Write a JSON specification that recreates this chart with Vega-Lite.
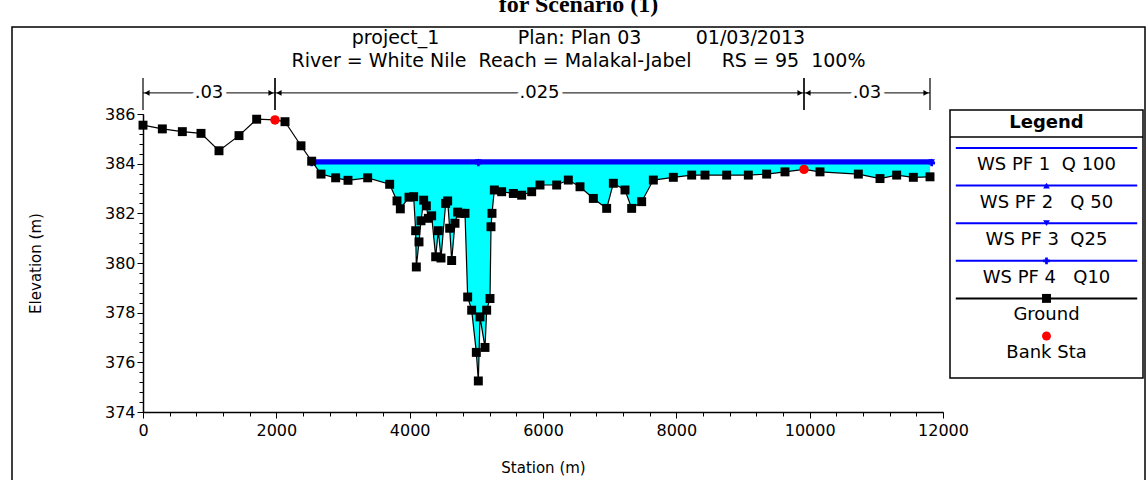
{
  "$schema": "https://vega.github.io/schema/vega-lite/v6.json",
  "width": 1133,
  "height": 461,
  "autosize": {"type": "none"},
  "padding": {"left": 12, "top": 27, "right": 2, "bottom": -8},
  "background": "white",
  "config": {
    "view": {"stroke": "black", "strokeWidth": 1.5, "fill": "white"},
    "font": "DejaVu Sans"
  },
  "title": {
    "text": "for Scenario (1)",
    "subtitle": ["project_1\u00a0\u00a0\u00a0\u00a0\u00a0\u00a0\u00a0\u00a0\u00a0\u00a0\u00a0\u00a0\u00a0Plan: Plan 03\u00a0\u00a0\u00a0\u00a0\u00a0\u00a0\u00a0\u00a0\u00a001/03/2013", "River = White Nile\u00a0\u00a0Reach = Malakal-Jabel\u00a0\u00a0\u00a0\u00a0\u00a0RS = 95\u00a0\u00a0100%"],
    "font": "Liberation Serif",
    "fontSize": 24,
    "fontWeight": "bold",
    "color": "black",
    "subtitleFont": "DejaVu Sans",
    "subtitleFontSize": 19,
    "subtitleColor": "black",
    "subtitleLineHeight": 23,
    "subtitlePadding": 12,
    "offset": -44,
    "anchor": "middle",
    "frame": "group"
  },
  "datasets": {
    "ground": [
      {"station": 0, "elev": 385.55}, {"station": 290, "elev": 385.4}, {"station": 590, "elev": 385.29},
      {"station": 870, "elev": 385.22}, {"station": 1140, "elev": 384.52}, {"station": 1440, "elev": 385.13},
      {"station": 1705, "elev": 385.79}, {"station": 1980, "elev": 385.76}, {"station": 2130, "elev": 385.69},
      {"station": 2370, "elev": 384.72}, {"station": 2530, "elev": 384.1}, {"station": 2670, "elev": 383.58},
      {"station": 2890, "elev": 383.43}, {"station": 3075, "elev": 383.33}, {"station": 3370, "elev": 383.43},
      {"station": 3700, "elev": 383.17}, {"station": 3810, "elev": 382.5}, {"station": 3860, "elev": 382.18},
      {"station": 3990, "elev": 382.65}, {"station": 4060, "elev": 382.67}, {"station": 4090, "elev": 381.3},
      {"station": 4100, "elev": 379.84}, {"station": 4140, "elev": 380.85}, {"station": 4170, "elev": 381.7},
      {"station": 4210, "elev": 382.53}, {"station": 4250, "elev": 382.3}, {"station": 4280, "elev": 381.8},
      {"station": 4330, "elev": 381.9}, {"station": 4390, "elev": 380.25}, {"station": 4430, "elev": 381.3},
      {"station": 4470, "elev": 380.2}, {"station": 4540, "elev": 382.4}, {"station": 4570, "elev": 382.5},
      {"station": 4600, "elev": 381.4}, {"station": 4630, "elev": 380.1}, {"station": 4680, "elev": 381.6},
      {"station": 4720, "elev": 382.05}, {"station": 4770, "elev": 382.0}, {"station": 4830, "elev": 382.0},
      {"station": 4870, "elev": 378.63}, {"station": 4930, "elev": 378.1}, {"station": 5000, "elev": 376.4},
      {"station": 5030, "elev": 375.25}, {"station": 5055, "elev": 377.83}, {"station": 5130, "elev": 376.6},
      {"station": 5155, "elev": 378.1}, {"station": 5205, "elev": 378.57}, {"station": 5220, "elev": 381.46},
      {"station": 5235, "elev": 382.0}, {"station": 5270, "elev": 382.94}, {"station": 5380, "elev": 382.87},
      {"station": 5555, "elev": 382.8}, {"station": 5680, "elev": 382.73}, {"station": 5830, "elev": 382.87},
      {"station": 5955, "elev": 383.14}, {"station": 6205, "elev": 383.14}, {"station": 6380, "elev": 383.34},
      {"station": 6555, "elev": 383.07}, {"station": 6755, "elev": 382.6}, {"station": 6955, "elev": 382.2},
      {"station": 7055, "elev": 383.21}, {"station": 7230, "elev": 382.94}, {"station": 7330, "elev": 382.2},
      {"station": 7480, "elev": 382.47}, {"station": 7655, "elev": 383.34}, {"station": 7955, "elev": 383.45},
      {"station": 8230, "elev": 383.54}, {"station": 8430, "elev": 383.54}, {"station": 8755, "elev": 383.54},
      {"station": 9080, "elev": 383.54}, {"station": 9355, "elev": 383.58}, {"station": 9630, "elev": 383.67},
      {"station": 9915, "elev": 383.77}, {"station": 10155, "elev": 383.67}, {"station": 10730, "elev": 383.58},
      {"station": 11055, "elev": 383.4}, {"station": 11305, "elev": 383.54}, {"station": 11555, "elev": 383.45},
      {"station": 11805, "elev": 383.47}
    ],
    "banks": [
      {"station": 1980, "elev": 385.76},
      {"station": 9915, "elev": 383.77}
    ],
    "ws": [
      {"series": "WS PF 1", "station": 2530, "elev": 384.12}, {"series": "WS PF 1", "station": 5030, "elev": 384.12}, {"series": "WS PF 1", "station": 11830, "elev": 384.12},
      {"series": "WS PF 2", "station": 2530, "elev": 384.09}, {"series": "WS PF 2", "station": 5030, "elev": 384.09}, {"series": "WS PF 2", "station": 11830, "elev": 384.09},
      {"series": "WS PF 3", "station": 2530, "elev": 384.06}, {"series": "WS PF 3", "station": 5030, "elev": 384.06}, {"series": "WS PF 3", "station": 11830, "elev": 384.06},
      {"series": "WS PF 4", "station": 2530, "elev": 384.03}, {"series": "WS PF 4", "station": 5030, "elev": 384.03}, {"series": "WS PF 4", "station": 11830, "elev": 384.03}
    ],
    "nvalues": [
      {"from": 0, "to": 1980, "n": ".03"},
      {"from": 1980, "to": 9915, "n": ".025"},
      {"from": 9915, "to": 11805, "n": ".03"}
    ],
    "legend": [
      {"slot": 1, "series": "WS PF 1", "label": "WS PF 1\u00a0\u00a0Q 100"},
      {"slot": 2, "series": "WS PF 2", "label": "WS PF 2\u00a0\u00a0\u00a0Q 50"},
      {"slot": 3, "series": "WS PF 3", "label": "WS PF 3\u00a0\u00a0Q25"},
      {"slot": 4, "series": "WS PF 4", "label": "WS PF 4\u00a0\u00a0\u00a0Q10"},
      {"slot": 5, "series": "Ground", "label": "Ground"},
      {"slot": 6, "series": "Bank Sta", "label": "Bank Sta"}
    ],
    "header": [{"label": "Legend"}]
  },
  "layer": [
    {
      "data": {"name": "ground"},
      "transform": [{"filter": "datum.station >= 2530"}],
      "mark": {"type": "area", "color": "#00ffff", "opacity": 1},
      "encoding": {
        "x": {
          "field": "station", "type": "quantitative",
          "scale": {"domain": [0, 12000], "range": [131, 931], "nice": false, "zero": false},
          "axis": {
            "orient": "bottom",
            "values": [0, 2000, 4000, 6000, 8000, 10000, 12000],
            "format": "d",
            "offset": -76,
            "tickSize": 6,
            "grid": false,
            "domainColor": "black", "domainWidth": 1.5,
            "tickColor": "black", "tickWidth": 1,
            "labelColor": "black", "labelFont": "DejaVu Sans", "labelFontSize": 16,
            "labelPadding": 4, "labelFlush": false, "labelOverlap": false,
            "title": "Station (m)", "titleFont": "DejaVu Sans", "titleFontSize": 15, "titleFontWeight": "normal",
            "titleColor": "black", "titleY": 55, "titleBaseline": "middle"
          }
        },
        "y": {
          "field": "elev", "type": "quantitative",
          "scale": {"domain": [374, 386], "range": [385, 87], "nice": false, "zero": false},
          "axis": {
            "orient": "left",
            "values": [374, 376, 378, 380, 382, 384, 386],
            "format": "d",
            "offset": -131,
            "tickSize": 6,
            "grid": false,
            "domainColor": "black", "domainWidth": 1.5,
            "tickColor": "black", "tickWidth": 1,
            "labelColor": "black", "labelFont": "DejaVu Sans", "labelFontSize": 16,
            "labelPadding": 2, "labelOverlap": false, "labelFlush": false,
            "title": "Elevation (m)", "titleFont": "DejaVu Sans", "titleFontSize": 15, "titleFontWeight": "normal",
            "titleColor": "black", "titleX": -108, "titleBaseline": "middle"
          }
        },
        "y2": {"datum": 384.08}
      }
    },
    {
      "data": {"name": "ground"},
      "mark": {"type": "line", "color": "black", "strokeWidth": 1.2},
      "encoding": {
        "x": {
          "field": "station", "type": "quantitative",
          "scale": {"domain": [0, 12000], "range": [131, 931], "nice": false, "zero": false},
          "axis": {
            "orient": "bottom",
            "values": [0,400,800,1200,1600,2000,2400,2800,3200,3600,4000,4400,4800,5200,5600,6000,6400,6800,7200,7600,8000,8400,8800,9200,9600,10000,10400,10800,11200,11600,12000],
            "offset": -76, "tickSize": 4, "labels": false, "domain": false, "grid": false, "title": null,
            "tickColor": "black", "tickWidth": 1
          }
        },
        "y": {
          "field": "elev", "type": "quantitative",
          "scale": {"domain": [374, 386], "range": [385, 87], "nice": false, "zero": false},
          "axis": {
            "orient": "left",
            "values": [374,374.4,374.8,375.2,375.6,376,376.4,376.8,377.2,377.6,378,378.4,378.8,379.2,379.6,380,380.4,380.8,381.2,381.6,382,382.4,382.8,383.2,383.6,384,384.4,384.8,385.2,385.6,386],
            "offset": -131, "tickSize": 4, "labels": false, "domain": false, "grid": false, "title": null,
            "tickColor": "black", "tickWidth": 1
          }
        }
      }
    },
    {
      "data": {"name": "ws"},
      "mark": {"type": "line", "color": "#0000ff", "strokeWidth": 3},
      "encoding": {
        "x": {"field": "station", "type": "quantitative", "scale": {"domain": [0, 12000], "range": [131, 931], "nice": false, "zero": false}, "axis": null},
        "y": {"field": "elev", "type": "quantitative", "scale": {"domain": [374, 386], "range": [385, 87], "nice": false, "zero": false}, "axis": null},
        "detail": {"field": "series"}
      }
    },
    {
      "data": {"name": "ws"},
      "transform": [{"filter": "datum.series !== 'WS PF 1'"}],
      "mark": {"type": "point", "filled": true, "color": "#0000ff", "size": 45, "opacity": 1},
      "encoding": {
        "x": {"field": "station", "type": "quantitative", "scale": {"domain": [0, 12000], "range": [131, 931], "nice": false, "zero": false}, "axis": null},
        "y": {"field": "elev", "type": "quantitative", "scale": {"domain": [374, 386], "range": [385, 87], "nice": false, "zero": false}, "axis": null},
        "shape": {"field": "series", "type": "nominal", "scale": {"domain": ["WS PF 2", "WS PF 3", "WS PF 4", "Ground", "Bank Sta"], "range": ["triangle-up", "triangle-down", "cross", "square", "circle"]}, "legend": null}
      }
    },
    {
      "data": {"name": "ground"},
      "transform": [{"filter": "datum.station !== 1980 && datum.station !== 9915"}],
      "mark": {"type": "point", "shape": "square", "filled": true, "color": "black", "size": 80, "opacity": 1},
      "encoding": {
        "x": {"field": "station", "type": "quantitative", "scale": {"domain": [0, 12000], "range": [131, 931], "nice": false, "zero": false}, "axis": null},
        "y": {"field": "elev", "type": "quantitative", "scale": {"domain": [374, 386], "range": [385, 87], "nice": false, "zero": false}, "axis": null}
      }
    },
    {
      "data": {"name": "banks"},
      "mark": {"type": "point", "shape": "circle", "filled": true, "color": "#ff0000", "size": 90, "opacity": 1},
      "encoding": {
        "x": {"field": "station", "type": "quantitative", "scale": {"domain": [0, 12000], "range": [131, 931], "nice": false, "zero": false}, "axis": null},
        "y": {"field": "elev", "type": "quantitative", "scale": {"domain": [374, 386], "range": [385, 87], "nice": false, "zero": false}, "axis": null}
      }
    },
    {
      "data": {"name": "nvalues"},
      "mark": {"type": "rule", "color": "black", "strokeWidth": 1.2},
      "encoding": {
        "x": {"field": "from", "type": "quantitative", "scale": {"domain": [0, 12000], "range": [131, 931], "nice": false, "zero": false}, "axis": null},
        "y": {"datum": 386.16, "type": "quantitative", "scale": {"domain": [374, 386], "range": [385, 87], "nice": false, "zero": false}, "axis": null},
        "y2": {"datum": 387.45}
      }
    },
    {
      "data": {"name": "nvalues"},
      "mark": {"type": "rule", "color": "black", "strokeWidth": 1.2},
      "encoding": {
        "x": {"field": "to", "type": "quantitative", "scale": {"domain": [0, 12000], "range": [131, 931], "nice": false, "zero": false}, "axis": null},
        "y": {"datum": 386.16, "type": "quantitative", "scale": {"domain": [374, 386], "range": [385, 87], "nice": false, "zero": false}, "axis": null},
        "y2": {"datum": 387.45}
      }
    },
    {
      "data": {"name": "nvalues"},
      "mark": {"type": "rule", "color": "black", "strokeWidth": 1},
      "encoding": {
        "x": {"field": "from", "type": "quantitative", "scale": {"domain": [0, 12000], "range": [131, 931], "nice": false, "zero": false}, "axis": null},
        "x2": {"field": "to"},
        "y": {"datum": 386.85, "type": "quantitative", "scale": {"domain": [374, 386], "range": [385, 87], "nice": false, "zero": false}, "axis": null}
      }
    },
    {
      "data": {"name": "nvalues"},
      "mark": {"type": "point", "shape": "triangle-left", "filled": true, "color": "black", "size": 35, "xOffset": 4, "opacity": 1},
      "encoding": {
        "x": {"field": "from", "type": "quantitative", "scale": {"domain": [0, 12000], "range": [131, 931], "nice": false, "zero": false}, "axis": null},
        "y": {"datum": 386.85, "type": "quantitative", "scale": {"domain": [374, 386], "range": [385, 87], "nice": false, "zero": false}, "axis": null}
      }
    },
    {
      "data": {"name": "nvalues"},
      "mark": {"type": "point", "shape": "triangle-right", "filled": true, "color": "black", "size": 35, "xOffset": -4, "opacity": 1},
      "encoding": {
        "x": {"field": "to", "type": "quantitative", "scale": {"domain": [0, 12000], "range": [131, 931], "nice": false, "zero": false}, "axis": null},
        "y": {"datum": 386.85, "type": "quantitative", "scale": {"domain": [374, 386], "range": [385, 87], "nice": false, "zero": false}, "axis": null}
      }
    },
    {
      "data": {"name": "nvalues"},
      "transform": [{"calculate": "(datum.from + datum.to) / 2", "as": "mid"}],
      "mark": {"type": "text", "fill": "white", "stroke": "white", "strokeWidth": 9, "strokeJoin": "round", "fontSize": 18, "font": "DejaVu Sans", "baseline": "middle", "align": "center"},
      "encoding": {
        "x": {"field": "mid", "type": "quantitative", "scale": {"domain": [0, 12000], "range": [131, 931], "nice": false, "zero": false}, "axis": null},
        "y": {"datum": 386.85, "type": "quantitative", "scale": {"domain": [374, 386], "range": [385, 87], "nice": false, "zero": false}, "axis": null},
        "text": {"field": "n"}
      }
    },
    {
      "data": {"name": "nvalues"},
      "transform": [{"calculate": "(datum.from + datum.to) / 2", "as": "mid"}],
      "mark": {"type": "text", "color": "black", "fontSize": 18, "font": "DejaVu Sans", "baseline": "middle", "align": "center"},
      "encoding": {
        "x": {"field": "mid", "type": "quantitative", "scale": {"domain": [0, 12000], "range": [131, 931], "nice": false, "zero": false}, "axis": null},
        "y": {"datum": 386.85, "type": "quantitative", "scale": {"domain": [374, 386], "range": [385, 87], "nice": false, "zero": false}, "axis": null},
        "text": {"field": "n"}
      }
    },
    {
      "data": {"name": "header"},
      "mark": {"type": "rect", "fill": "white", "stroke": "black", "strokeWidth": 1.5},
      "encoding": {
        "x": {"datum": 0, "type": "quantitative", "scale": {"domain": [0, 1], "range": [938, 1131], "nice": false, "zero": false}, "axis": null},
        "x2": {"datum": 1},
        "y": {"datum": -0.01, "type": "quantitative", "scale": {"domain": [0, 6], "range": [83.4, 309], "nice": false, "zero": false}, "axis": null},
        "y2": {"datum": 7.12}
      }
    },
    {
      "data": {"name": "header"},
      "mark": {"type": "rule", "color": "black", "strokeWidth": 1.5},
      "encoding": {
        "x": {"datum": 0, "type": "quantitative", "scale": {"domain": [0, 1], "range": [938, 1131], "nice": false, "zero": false}, "axis": null},
        "x2": {"datum": 1},
        "y": {"datum": 0.707, "type": "quantitative", "scale": {"domain": [0, 6], "range": [83.4, 309], "nice": false, "zero": false}, "axis": null}
      }
    },
    {
      "data": {"name": "header"},
      "mark": {"type": "text", "color": "black", "fontSize": 18, "fontWeight": "bold", "font": "DejaVu Sans", "baseline": "middle", "align": "center", "dy": 13},
      "encoding": {
        "x": {"datum": 0.5, "type": "quantitative", "scale": {"domain": [0, 1], "range": [938, 1131], "nice": false, "zero": false}, "axis": null},
        "y": {"datum": 0, "type": "quantitative", "scale": {"domain": [0, 6], "range": [83.4, 309], "nice": false, "zero": false}, "axis": null},
        "text": {"field": "label"}
      }
    },
    {
      "data": {"name": "legend"},
      "transform": [{"filter": "datum.series !== 'Bank Sta'"}],
      "mark": {"type": "rule", "strokeWidth": 2},
      "encoding": {
        "x": {"datum": 0.03, "type": "quantitative", "scale": {"domain": [0, 1], "range": [938, 1131], "nice": false, "zero": false}, "axis": null},
        "x2": {"datum": 0.97},
        "y": {"field": "slot", "type": "quantitative", "scale": {"domain": [0, 6], "range": [83.4, 309], "nice": false, "zero": false}, "axis": null},
        "color": {"field": "series", "type": "nominal", "scale": {"domain": ["WS PF 1", "WS PF 2", "WS PF 3", "WS PF 4", "Ground", "Bank Sta"], "range": ["#0000ff", "#0000ff", "#0000ff", "#0000ff", "#000000", "#ff0000"]}, "legend": null}
      }
    },
    {
      "data": {"name": "legend"},
      "transform": [{"filter": "datum.series === 'WS PF 2' || datum.series === 'WS PF 3' || datum.series === 'WS PF 4'"}],
      "mark": {"type": "point", "filled": true, "size": 45, "opacity": 1, "color": "#0000ff"},
      "encoding": {
        "x": {"datum": 0.5, "type": "quantitative", "scale": {"domain": [0, 1], "range": [938, 1131], "nice": false, "zero": false}, "axis": null},
        "y": {"field": "slot", "type": "quantitative", "scale": {"domain": [0, 6], "range": [83.4, 309], "nice": false, "zero": false}, "axis": null},
        "shape": {"field": "series", "type": "nominal", "scale": {"domain": ["WS PF 2", "WS PF 3", "WS PF 4", "Ground", "Bank Sta"], "range": ["triangle-up", "triangle-down", "cross", "square", "circle"]}, "legend": null}
      }
    },
    {
      "data": {"name": "legend"},
      "transform": [{"filter": "datum.series === 'Ground'"}],
      "mark": {"type": "point", "shape": "square", "filled": true, "color": "black", "size": 80, "opacity": 1},
      "encoding": {
        "x": {"datum": 0.5, "type": "quantitative", "scale": {"domain": [0, 1], "range": [938, 1131], "nice": false, "zero": false}, "axis": null},
        "y": {"field": "slot", "type": "quantitative", "scale": {"domain": [0, 6], "range": [83.4, 309], "nice": false, "zero": false}, "axis": null}
      }
    },
    {
      "data": {"name": "legend"},
      "transform": [{"filter": "datum.series === 'Bank Sta'"}],
      "mark": {"type": "point", "shape": "circle", "filled": true, "color": "#ff0000", "size": 80, "opacity": 1},
      "encoding": {
        "x": {"datum": 0.5, "type": "quantitative", "scale": {"domain": [0, 1], "range": [938, 1131], "nice": false, "zero": false}, "axis": null},
        "y": {"field": "slot", "type": "quantitative", "scale": {"domain": [0, 6], "range": [83.4, 309], "nice": false, "zero": false}, "axis": null}
      }
    },
    {
      "data": {"name": "legend"},
      "mark": {"type": "text", "color": "black", "fontSize": 18, "font": "DejaVu Sans", "baseline": "middle", "align": "center", "dy": 17},
      "encoding": {
        "x": {"datum": 0.5, "type": "quantitative", "scale": {"domain": [0, 1], "range": [938, 1131], "nice": false, "zero": false}, "axis": null},
        "y": {"field": "slot", "type": "quantitative", "scale": {"domain": [0, 6], "range": [83.4, 309], "nice": false, "zero": false}, "axis": null},
        "text": {"field": "label"}
      }
    }
  ],
  "resolve": {
    "scale": {"x": "independent", "y": "independent", "color": "independent", "shape": "independent"},
    "axis": {"x": "independent", "y": "independent"}
  }
}
